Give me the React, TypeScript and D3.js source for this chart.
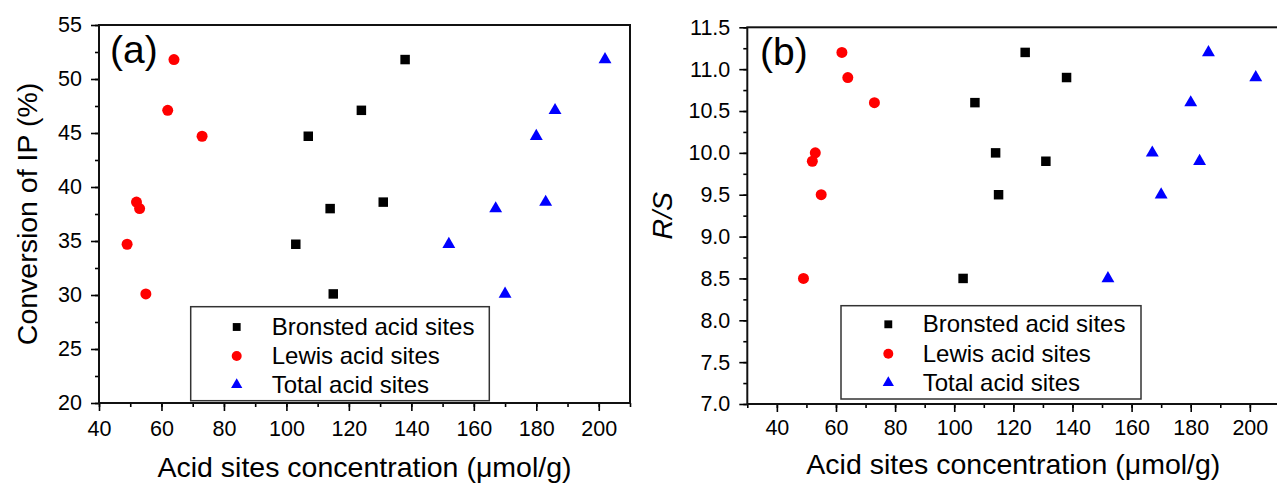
import React, { useRef, useEffect } from 'react';
import * as d3 from 'd3';

// samples: Bronsted, Lewis and total acid site concentrations (umol/g)
const bronstedSites = [103, 107, 114, 115, 124, 131, 138];
const lewisSites = [49, 73, 53, 55, 62, 52, 64];
const totalSites = [152, 180, 167, 170, 186, 183, 202];
const conversionIP = [34.7, 44.7, 38.0, 30.1, 47.1, 38.6, 51.8];
const ratioRS = [8.5, 10.6, 10.0, 9.5, 11.2, 9.9, 10.9];

const seriesNames = ['Bronsted acid sites', 'Lewis acid sites', 'Total acid sites'];
const seriesColors = ['#000000', '#ff0000', '#0000ff'];

const xTicks = [40, 60, 80, 100, 120, 140, 160, 180, 200];
const yTicksA = [20, 25, 30, 35, 40, 45, 50, 55];
const yTicksB = [7.0, 7.5, 8.0, 8.5, 9.0, 9.5, 10.0, 10.5, 11.0, 11.5];

const FONT = '"Liberation Sans", Arial, sans-serif';

const App = () => {
    const svgRef = useRef<SVGSVGElement>(null);

    useEffect(() => {
        d3.select(svgRef.current).selectAll('*').remove();

        const svg = d3.select(svgRef.current)
            .attr('width', 1277)
            .attr('height', 483)
            .style('position', 'absolute')
            .style('left', '0px')
            .style('top', '0px')
            .style('background', '#fff');

        const symbols = [d3.symbolSquare, d3.symbolCircle, d3.symbolTriangle];
        const markSize = [90, 95, 72];
        const legendSize = [62, 78, 55];

        const panels = [
            {
                left: 99, top: 25, right: 630, bottom: 403,
                xDomain: [40, 210], yDomain: [20, 55],
                yTicks: yTicksA, yMinorStep: 2.5, yFormat: d3.format('d'),
                y: conversionIP, tag: '(a)', tagX: 110, tagY: 63,
                xPad: 10, titleY: 477,
                legend: { x: 190.7, y: 306.7, w: 298.6, h: 94, symX: 236.7, textX: 271.7, base: [335, 364, 392.7] },
            },
            {
                left: 747.3, top: 27.3, right: 1279.4, bottom: 404,
                xDomain: [30, 210], yDomain: [7, 11.5],
                yTicks: yTicksB, yMinorStep: 0.25, yFormat: d3.format('.1f'),
                y: ratioRS, tag: '(b)', tagX: 760, tagY: 65,
                xPad: 7.5, titleY: 474,
                legend: { x: 841, y: 305.7, w: 300, h: 93.3, symX: 888.3, textX: 922.7, base: [332.3, 361.7, 390.7] },
            },
        ];

        panels.forEach((p, pi) => {
            const x = d3.scaleLinear().domain(p.xDomain).range([p.left, p.right]);
            const y = d3.scaleLinear().domain(p.yDomain).range([p.bottom, p.top]);
            const g = svg.append('g');

            // minor ticks
            const xMinor = d3.range(p.xDomain[0], p.xDomain[1] + 0.001, 10);
            const yMinor = d3.range(p.yDomain[0], p.yDomain[1] + 0.001, p.yMinorStep);

            const xAxisMinor = g.append('g')
                .attr('transform', `translate(0,${p.bottom})`)
                .call(d3.axisBottom(x).tickValues(xMinor).tickSize(4).tickFormat(() => ''));
            const yAxisMinor = g.append('g')
                .attr('transform', `translate(${p.left},0)`)
                .call(d3.axisLeft(y).tickValues(yMinor).tickSize(4).tickFormat(() => ''));

            const xAxis = g.append('g')
                .attr('transform', `translate(0,${p.bottom})`)
                .call(d3.axisBottom(x).tickValues(xTicks).tickSize(8).tickPadding(p.xPad).tickFormat(d3.format('d')));
            const yAxis = g.append('g')
                .attr('transform', `translate(${p.left},0)`)
                .call(d3.axisLeft(y).tickValues(p.yTicks).tickSize(8).tickPadding(9).tickFormat(p.yFormat as any));

            [xAxisMinor, yAxisMinor, xAxis, yAxis].forEach(a => {
                a.select('.domain').remove();
                a.selectAll('line').attr('stroke', '#000').attr('stroke-width', 1.6);
                a.selectAll('text')
                    .attr('fill', '#000')
                    .style('font-family', FONT)
                    .style('font-size', '21.5px');
            });

            // frame
            g.append('rect')
                .attr('x', p.left)
                .attr('y', p.top)
                .attr('width', p.right - p.left)
                .attr('height', p.bottom - p.top)
                .attr('fill', 'none')
                .attr('stroke', '#111')
                .attr('stroke-width', 2);

            // points
            const xs = [bronstedSites, lewisSites, totalSites];
            xs.forEach((vals, si) => {
                const sym = d3.symbol().type(symbols[si]).size(markSize[si]);
                g.selectAll(null)
                    .data(vals)
                    .join('path')
                    .attr('d', sym)
                    .attr('transform', (d, i) => `translate(${x(d)},${y(p.y[i])})`)
                    .attr('fill', seriesColors[si]);
            });

            // legend
            const L = p.legend;
            g.append('rect')
                .attr('x', L.x).attr('y', L.y)
                .attr('width', L.w).attr('height', L.h)
                .attr('fill', '#fff')
                .attr('stroke', '#333')
                .attr('stroke-width', 1.5);
            seriesNames.forEach((name, si) => {
                const sym = d3.symbol().type(symbols[si]).size(legendSize[si]);
                g.append('path')
                    .attr('d', sym)
                    .attr('transform', `translate(${L.symX},${L.base[si] - 8})`)
                    .attr('fill', seriesColors[si]);
                g.append('text')
                    .attr('x', L.textX)
                    .attr('y', L.base[si])
                    .text(name)
                    .style('font-family', FONT)
                    .style('font-size', '24px');
            });

            // panel tag
            g.append('text')
                .attr('x', p.tagX)
                .attr('y', p.tagY)
                .text(p.tag)
                .style('font-family', FONT)
                .style('font-size', '39px');

            // x title
            g.append('text')
                .attr('x', (p.left + p.right) / 2)
                .attr('y', p.titleY)
                .attr('text-anchor', 'middle')
                .text('Acid sites concentration (\u03bcmol/g)')
                .style('font-family', FONT)
                .style('font-size', '28.5px');

            // y title
            const cy = (p.top + p.bottom) / 2;
            if (pi === 0) {
                g.append('text')
                    .attr('transform', `translate(37,${cy}) rotate(-90)`)
                    .attr('text-anchor', 'middle')
                    .text('Conversion of IP (%)')
                    .style('font-family', FONT)
                    .style('font-size', '28.5px');
            } else {
                g.append('text')
                    .attr('transform', `translate(672,${cy}) rotate(-90)`)
                    .attr('text-anchor', 'middle')
                    .text('R/S')
                    .style('font-family', FONT)
                    .style('font-style', 'italic')
                    .style('font-size', '28.5px');
            }
        });
    }, []);

    return (
        <svg ref={svgRef}></svg>
    );
};

export default App;
